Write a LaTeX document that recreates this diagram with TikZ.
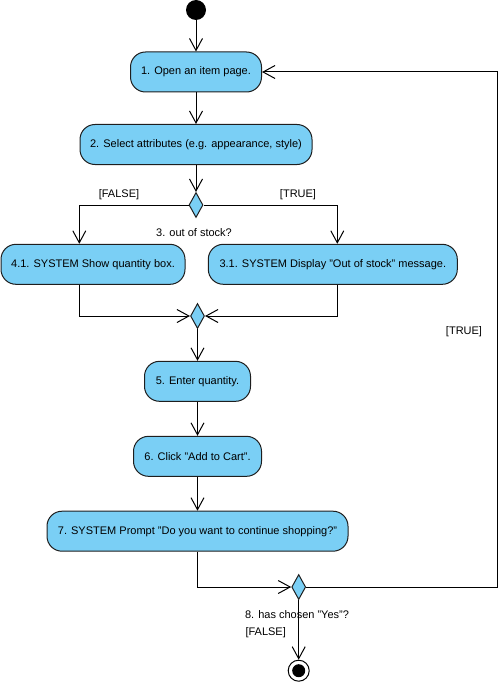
\documentclass[tikz,border=0pt]{standalone}
\usepackage{fontspec}
\setmainfont{Liberation Sans}
\usepackage{tikz}
\usetikzlibrary{arrows.meta,positioning,shapes.geometric}
\definecolor{actionblue}{RGB}{122,207,245}
\definecolor{edgegray}{RGB}{30,30,30}

\begin{document}
\begin{tikzpicture}[x=1pt,y=-1pt,line width=1pt,
    font=\fontsize{11}{13}\selectfont,
    action/.style={draw=edgegray,fill=actionblue,rounded corners=15pt,
        minimum height=40pt,inner sep=0pt},
    choice/.style={draw=edgegray,fill=actionblue,diamond,minimum width=14pt,
        minimum height=25pt,inner sep=0pt},
    flow/.style={-{Straight Barb[length=12pt,width=13pt,line width=1pt]}},
    guard/.style={inner sep=0pt}]
    \useasboundingbox (0,0) rectangle (498,682);

    % Start
    \node[circle,fill=black,minimum size=20pt,inner sep=0pt] (start) at (196,10) {};

    % Actions
    \node[action,minimum width=131pt] (open) at (196,72) {1. Open an item page.};
    \node[action,minimum width=232pt] (attr) at (196,144.5) {2. Select attributes (e.g. appearance, style)};
    \node[choice] (stock) at (196,205) {};
    \node[action,minimum width=184pt] (show) at (93,264.3) {4.1. SYSTEM Show quantity box.};
    \node[action,minimum width=249pt] (msg) at (332.8,264.3) {3.1. SYSTEM Display "Out of stock" message.};
    \node[choice] (merge) at (197.5,316) {};
    \node[action,minimum width=106pt] (qty) at (197.5,381.3) {5. Enter quantity.};
    \node[action,minimum width=128pt] (cart) at (197.5,456.3) {6. Click "Add to Cart".};
    \node[action,minimum width=301pt] (prompt) at (197.5,531.2) {7. SYSTEM Prompt "Do you want to continue shopping?"};
    \node[choice] (again) at (298.7,587) {};

    % End
    \node[circle,draw=black,minimum size=21pt,inner sep=0pt] (stop) at (298.7,670.7) {};
    \fill[black] (stop) circle (6.5);

    % Flows
    \draw[flow] (start) -- (open);
    \draw[flow] (open) -- (attr);
    \draw[flow] (attr) -- (stock);
    \draw[flow] (stock.west) -| ([xshift=-13.7pt]show.north);
    \draw[flow] (stock.east) -| ([xshift=4.5pt]msg.north);
    \draw[flow] ([xshift=-13.7pt]show.south) |- (merge.west);
    \draw[flow] ([xshift=4.5pt]msg.south) |- (merge.east);
    \draw[flow] (merge) -- (qty);
    \draw[flow] (qty) -- (cart);
    \draw[flow] (cart) -- (prompt);
    \draw[flow] (prompt.south) |- (again.west);
    \coordinate (rim) at (497.3,0);
    \draw[flow] (again.east) -- (again.east -| rim) |- (open.east);
    \draw[flow] (again) -- (stop);

    % Guards
    \node[guard] (nostock) at (119,195) {[FALSE]};
    \node[guard] (instock) at (298,195) {[TRUE]};
    \node[guard] (stockq) at (194,233) {3. out of stock?};
    \node[guard] (more) at (464,332) {[TRUE]};
    \node[guard] (againq) at (297,615) {8. has chosen "Yes"?};
    \node[guard,anchor=west] (done) at (245,633) {[FALSE]};
\end{tikzpicture}
\end{document}
